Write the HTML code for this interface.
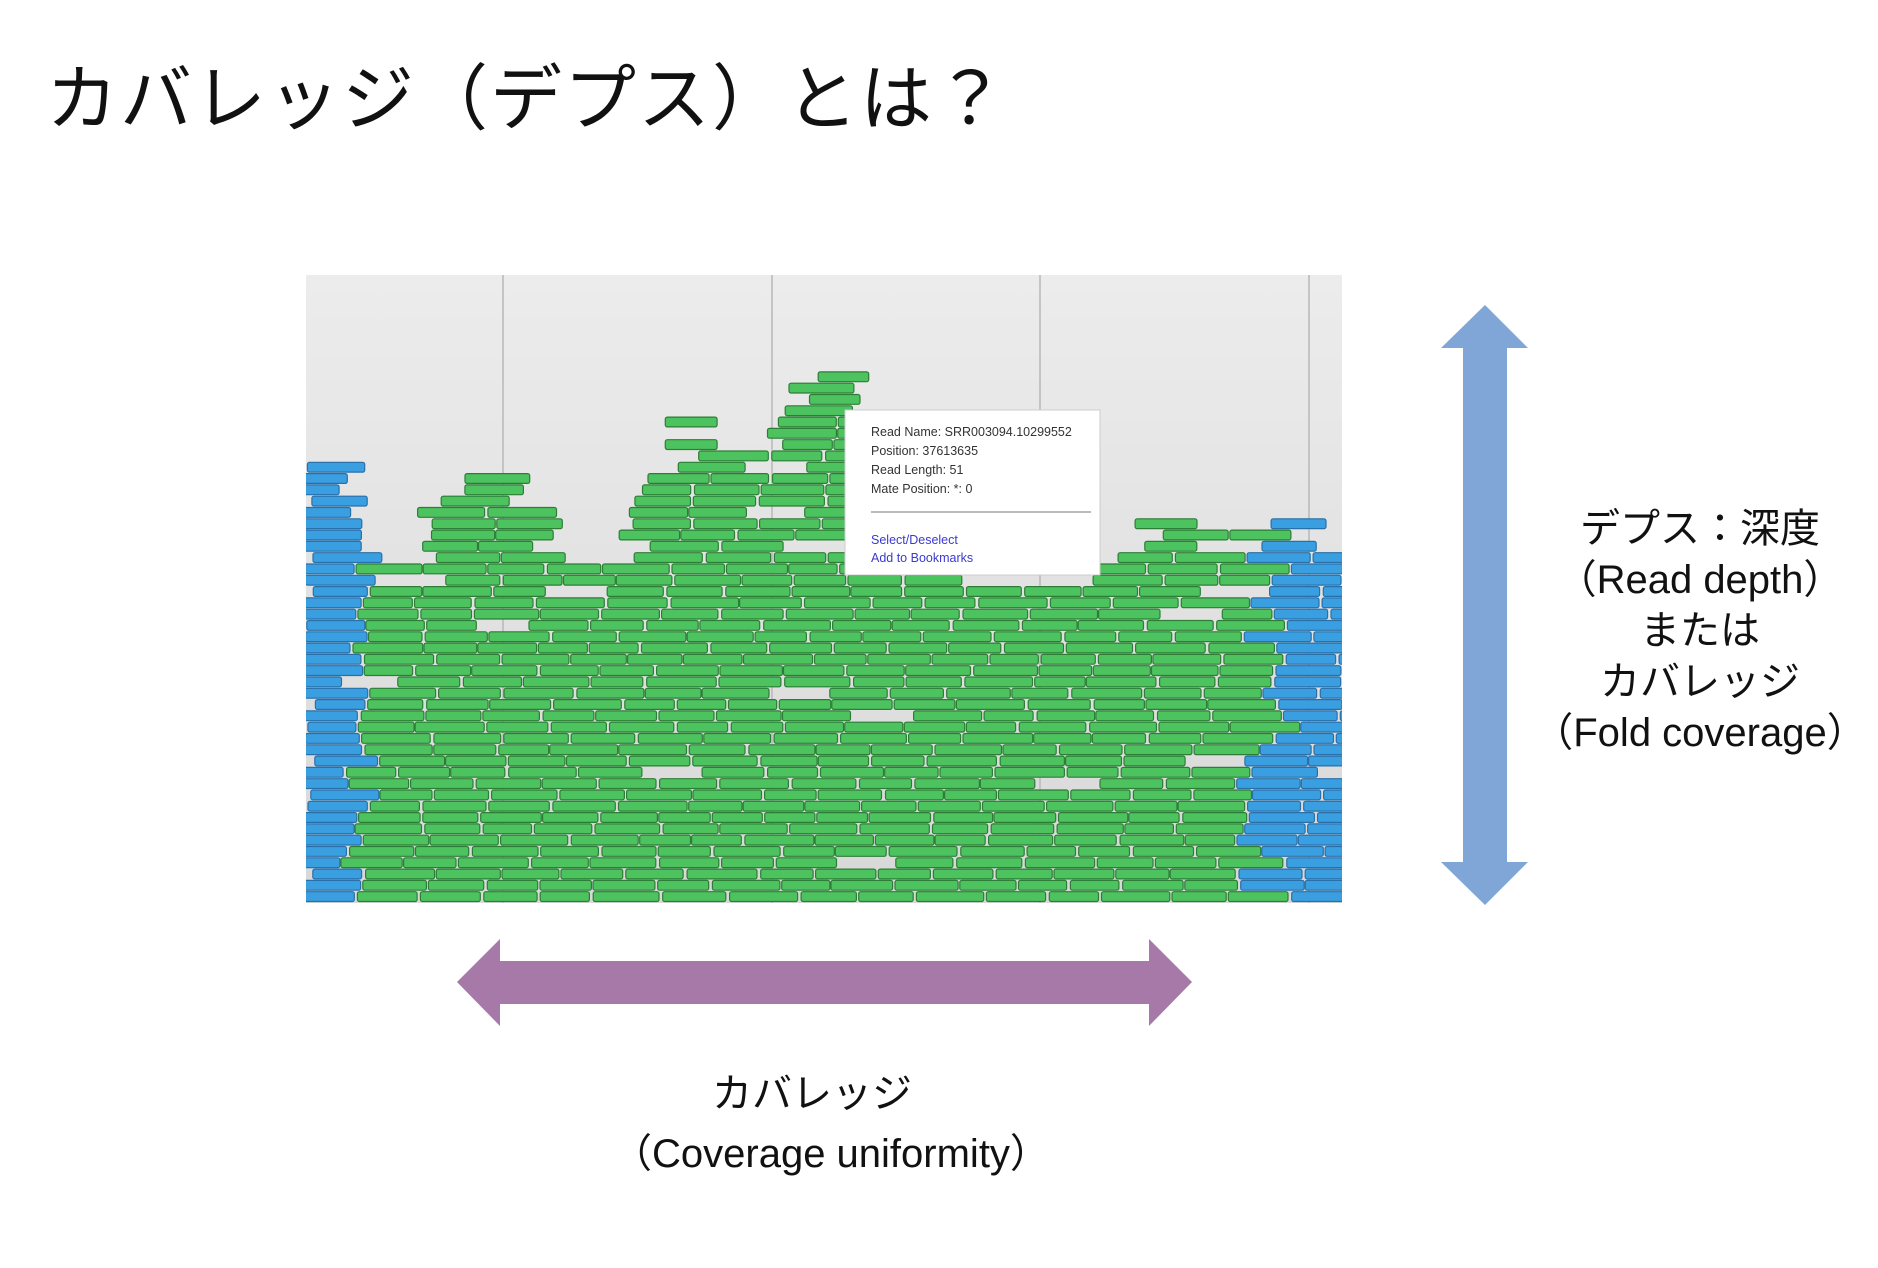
<!DOCTYPE html>
<html><head><meta charset="utf-8"><style>
html,body{margin:0;padding:0;background:#fff;}
body{width:1878px;height:1268px;position:relative;overflow:hidden;font-family:"Liberation Sans","Noto Sans CJK JP",sans-serif;color:#111;}
.t{position:absolute;white-space:nowrap;}
#title{left:46px;top:40px;font-size:72px;letter-spacing:2px;}
.c{text-align:center;font-size:40px;line-height:51px;}
</style></head><body>
<div class="t" id="title">カバレッジ（デプス）とは？</div>
<svg id="pic" style="position:absolute;left:306px;top:275px" width="1036" height="628" viewBox="0 0 1036 628">
<defs><linearGradient id="bg" x1="0" y1="0" x2="0" y2="1"><stop offset="0" stop-color="#ececec"/><stop offset="1" stop-color="#d8d8d8"/></linearGradient></defs>
<rect width="1036" height="628" fill="url(#bg)"/>
<g stroke="#b8b8b8" stroke-width="1.5"><line x1="197" y1="0" x2="197" y2="628"/><line x1="466" y1="0" x2="466" y2="628"/><line x1="734" y1="0" x2="734" y2="628"/><line x1="1003" y1="0" x2="1003" y2="628"/></g>
<g id="bars"></g>
<g>
<rect x="539" y="135" width="255" height="165" fill="#fff" stroke="#ccc"/>
<g font-family="Liberation Sans, sans-serif" font-size="12.5" fill="#333">
<text x="565" y="161">Read Name: SRR003094.10299552</text>
<text x="565" y="180">Position: 37613635</text>
<text x="565" y="199">Read Length: 51</text>
<text x="565" y="218">Mate Position: *: 0</text>
</g>
<line x1="565" y1="237" x2="785" y2="237" stroke="#bbb" stroke-width="2"/>
<g font-family="Liberation Sans, sans-serif" font-size="12.5" fill="#3a3ad0">
<text x="565" y="269">Select/Deselect</text>
<text x="565" y="287">Add to Bookmarks</text>
</g>
</g>
</svg>
<svg style="position:absolute;left:0;top:0" width="1878" height="1268">
<polygon points="1485,305 1528,348 1507,348 1507,862 1528,862 1485,905 1441,862 1463,862 1463,348 1441,348" fill="#7fa6d6"/>
<polygon points="457,982 500,939 500,961 1149,961 1149,939 1192,982 1149,1026 1149,1004 500,1004 500,1026" fill="#a679a9"/>
</svg>
<div class="t c" style="left:1500px;width:400px;top:504px;">デプス：深度<br>（Read depth）<br>または<br>カバレッジ<br>（Fold coverage）</div>
<div class="t c" style="left:612px;width:400px;top:1064px;line-height:60px;">カバレッジ<br>（Coverage uniformity）</div>
<script>
(function(){
var prof=[[254,460],[262,370],[300,380],[320,470],[350,500],[375,400],[400,385],[440,395],[470,470],[520,460],[560,380],[580,330],[610,340],[620,430],[650,425],[670,330],[690,300],[725,310],[760,470],[800,480],[850,480],[900,490],[940,450],[960,410],[1000,420],[1030,500],[1045,430],[1080,430],[1095,450],[1115,450]];
var s=1.204,X0=306,Y0=275;
var P=prof.map(function(p){return [p[0]*s-X0,p[1]*s-Y0];});
function top(x){for(var i=1;i<P.length;i++){if(x<=P[i][0]){var a=P[i-1],b=P[i],t=(x-a[0])/(b[0]-a[0]);return a[1]+t*(b[1]-a[1]);}}return P[P.length-1][1];}
var seed=7;function r(){seed=(seed*16807)%2147483647;return seed/2147483647;}
var h=11.3,out=[];
for(var y=628-h;y>20;y-=h){
  var x=-20+r()*30;
  while(x<1036){
    var w=48+r()*22;var cx=x+w/2;
    var tp=top(Math.max(0,Math.min(1035,cx)))+ (r()-0.5)*14;
    if(y>tp && r()>0.02){
      var blue=(cx<55||cx>960);
      var f=blue?"#3a9fe0":"#4cc35e",st=blue?"#2a6fa8":"#2d7d36";
      out.push('<rect x="'+x.toFixed(1)+'" y="'+y.toFixed(1)+'" width="'+w.toFixed(1)+'" height="'+(h-1.5)+'" rx="2" fill="'+f+'" stroke="'+st+'" stroke-width="1.2"/>');
    }
    x+=w+1+r()*3;
  }
}
document.getElementById('bars').innerHTML=out.join('');
})();
</script>
</body></html>
